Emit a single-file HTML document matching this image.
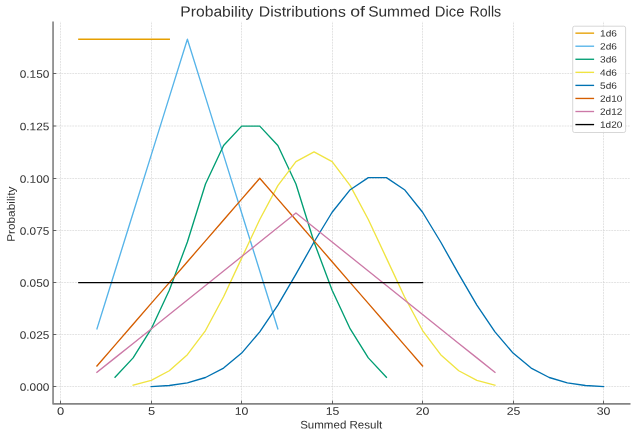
<!DOCTYPE html>
<html><head><meta charset="utf-8"><title>Probability Distributions of Summed Dice Rolls</title>
<style>html,body{margin:0;padding:0;background:#fff;}body{width:636px;height:437px;overflow:hidden;}svg{display:block;will-change:transform;}text{text-rendering:geometricPrecision;font-family:"Liberation Sans",sans-serif;fill:#303030;}</style></head><body>
<svg width="636" height="437" viewBox="0 0 636 437">
<rect x="0" y="0" width="636" height="437" fill="#ffffff"/>
<g stroke="#d0d0d0" stroke-width="0.6" stroke-dasharray="1.9 0.85" fill="none">
<line x1="60.50" y1="403.90" x2="60.50" y2="21.50"/>
<line x1="151.50" y1="403.90" x2="151.50" y2="21.50"/>
<line x1="241.50" y1="403.90" x2="241.50" y2="21.50"/>
<line x1="332.50" y1="403.90" x2="332.50" y2="21.50"/>
<line x1="422.50" y1="403.90" x2="422.50" y2="21.50"/>
<line x1="513.50" y1="403.90" x2="513.50" y2="21.50"/>
<line x1="603.50" y1="403.90" x2="603.50" y2="21.50"/>
<line x1="53.05" y1="386.50" x2="630.50" y2="386.50"/>
<line x1="53.05" y1="334.50" x2="630.50" y2="334.50"/>
<line x1="53.05" y1="282.50" x2="630.50" y2="282.50"/>
<line x1="53.05" y1="230.50" x2="630.50" y2="230.50"/>
<line x1="53.05" y1="178.50" x2="630.50" y2="178.50"/>
<line x1="53.05" y1="126.00" x2="630.50" y2="126.00"/>
<line x1="53.05" y1="73.50" x2="630.50" y2="73.50"/>
</g>
<g fill="none" stroke-width="1.35" stroke-linejoin="round" stroke-linecap="square">
<polyline stroke="#E69F00" points="78.84,39.20 96.93,39.20 115.03,39.20 133.12,39.20 151.21,39.20 169.30,39.20"/>
<polyline stroke="#56B4E9" points="96.93,328.93 115.03,270.98 133.12,213.04 151.21,155.09 169.30,97.15 187.39,39.20 205.49,97.15 223.58,155.09 241.67,213.04 259.76,270.98 277.85,328.93"/>
<polyline stroke="#009E73" points="115.03,377.21 133.12,357.90 151.21,328.93 169.30,290.30 187.39,242.01 205.49,184.06 223.58,145.43 241.67,126.12 259.76,126.12 277.85,145.43 295.95,184.06 314.04,242.01 332.13,290.30 350.22,328.93 368.31,357.90 386.41,377.21"/>
<polyline stroke="#F0E442" points="133.12,385.26 151.21,380.43 169.30,370.77 187.39,354.68 205.49,330.54 223.58,296.73 241.67,258.10 259.76,219.47 277.85,185.67 295.95,161.53 314.04,151.87 332.13,161.53 350.22,185.67 368.31,219.47 386.41,258.10 404.50,296.73 422.59,330.54 440.68,354.68 458.77,370.77 476.87,380.43 494.96,385.26"/>
<polyline stroke="#0072B2" points="151.21,386.60 169.30,385.53 187.39,382.85 205.49,377.48 223.58,368.09 241.67,353.07 259.76,331.88 277.85,305.05 295.95,274.20 314.04,242.01 332.13,212.23 350.22,189.70 368.31,177.63 386.41,177.63 404.50,189.70 422.59,212.23 440.68,242.01 458.77,274.20 476.87,305.05 494.96,331.88 513.05,353.07 531.14,368.09 549.23,377.48 567.33,382.85 585.42,385.53 603.51,386.60"/>
<polyline stroke="#D55E00" points="96.93,366.01 115.03,345.15 133.12,324.29 151.21,303.43 169.30,282.57 187.39,261.71 205.49,240.85 223.58,219.99 241.67,199.13 259.76,178.27 277.85,199.13 295.95,219.99 314.04,240.85 332.13,261.71 350.22,282.57 368.31,303.43 386.41,324.29 404.50,345.15 422.59,366.01"/>
<polyline stroke="#CC79A7" points="96.93,372.38 115.03,357.90 133.12,343.41 151.21,328.93 169.30,314.44 187.39,299.95 205.49,285.47 223.58,270.98 241.67,256.50 259.76,242.01 277.85,227.52 295.95,213.04 314.04,227.52 332.13,242.01 350.22,256.50 368.31,270.98 386.41,285.47 404.50,299.95 422.59,314.44 440.68,328.93 458.77,343.41 476.87,357.90 494.96,372.38"/>
<polyline stroke="#000000" points="78.84,282.57 96.93,282.57 115.03,282.57 133.12,282.57 151.21,282.57 169.30,282.57 187.39,282.57 205.49,282.57 223.58,282.57 241.67,282.57 259.76,282.57 277.85,282.57 295.95,282.57 314.04,282.57 332.13,282.57 350.22,282.57 368.31,282.57 386.41,282.57 404.50,282.57 422.59,282.57"/>
</g>
<path d="M53.05 21.50 V403.90 H630.50" stroke="#848484" stroke-width="1.65" fill="none" stroke-linejoin="round"/>
<g stroke="#4a4a4a" stroke-width="0.85" fill="none">
<line x1="60.50" y1="403.90" x2="60.50" y2="400.70"/>
<line x1="151.50" y1="403.90" x2="151.50" y2="400.70"/>
<line x1="241.50" y1="403.90" x2="241.50" y2="400.70"/>
<line x1="332.50" y1="403.90" x2="332.50" y2="400.70"/>
<line x1="422.50" y1="403.90" x2="422.50" y2="400.70"/>
<line x1="513.50" y1="403.90" x2="513.50" y2="400.70"/>
<line x1="603.50" y1="403.90" x2="603.50" y2="400.70"/>
<line x1="53.05" y1="386.50" x2="56.25" y2="386.50"/>
<line x1="53.05" y1="334.50" x2="56.25" y2="334.50"/>
<line x1="53.05" y1="282.50" x2="56.25" y2="282.50"/>
<line x1="53.05" y1="230.50" x2="56.25" y2="230.50"/>
<line x1="53.05" y1="178.50" x2="56.25" y2="178.50"/>
<line x1="53.05" y1="126.00" x2="56.25" y2="126.00"/>
<line x1="53.05" y1="73.50" x2="56.25" y2="73.50"/>
</g>
<g font-size="10.85">
<text x="60.50" y="414.7" transform="rotate(0.05 60.50 414.7)" text-anchor="middle" textLength="7.2" lengthAdjust="spacingAndGlyphs">0</text>
<text x="151.50" y="414.7" transform="rotate(0.05 151.50 414.7)" text-anchor="middle" textLength="7.2" lengthAdjust="spacingAndGlyphs">5</text>
<text x="241.50" y="414.7" transform="rotate(0.05 241.50 414.7)" text-anchor="middle" textLength="13.7" lengthAdjust="spacingAndGlyphs">10</text>
<text x="332.50" y="414.7" transform="rotate(0.05 332.50 414.7)" text-anchor="middle" textLength="13.7" lengthAdjust="spacingAndGlyphs">15</text>
<text x="422.50" y="414.7" transform="rotate(0.05 422.50 414.7)" text-anchor="middle" textLength="13.7" lengthAdjust="spacingAndGlyphs">20</text>
<text x="513.50" y="414.7" transform="rotate(0.05 513.50 414.7)" text-anchor="middle" textLength="13.7" lengthAdjust="spacingAndGlyphs">25</text>
<text x="603.50" y="414.7" transform="rotate(0.05 603.50 414.7)" text-anchor="middle" textLength="13.7" lengthAdjust="spacingAndGlyphs">30</text>
<text x="49.3" y="390.80" transform="rotate(0.05 49.3 390.80)" text-anchor="end" textLength="29.6" lengthAdjust="spacingAndGlyphs">0.000</text>
<text x="49.3" y="338.80" transform="rotate(0.05 49.3 338.80)" text-anchor="end" textLength="29.6" lengthAdjust="spacingAndGlyphs">0.025</text>
<text x="49.3" y="286.80" transform="rotate(0.05 49.3 286.80)" text-anchor="end" textLength="29.6" lengthAdjust="spacingAndGlyphs">0.050</text>
<text x="49.3" y="234.80" transform="rotate(0.05 49.3 234.80)" text-anchor="end" textLength="29.6" lengthAdjust="spacingAndGlyphs">0.075</text>
<text x="49.3" y="182.80" transform="rotate(0.05 49.3 182.80)" text-anchor="end" textLength="29.6" lengthAdjust="spacingAndGlyphs">0.100</text>
<text x="49.3" y="130.30" transform="rotate(0.05 49.3 130.30)" text-anchor="end" textLength="29.6" lengthAdjust="spacingAndGlyphs">0.125</text>
<text x="49.3" y="77.80" transform="rotate(0.05 49.3 77.80)" text-anchor="end" textLength="29.6" lengthAdjust="spacingAndGlyphs">0.150</text>
</g>
<text x="341.2" y="428.5" transform="rotate(0.05 341.2 428.5)" font-size="11" text-anchor="middle" textLength="82.1" lengthAdjust="spacingAndGlyphs">Summed Result</text>
<text transform="translate(14.75,214.25) rotate(-89.95)" font-size="10.9" text-anchor="middle" textLength="55.2" lengthAdjust="spacingAndGlyphs">Probability</text>
<g font-size="14.7">
<text x="180.36" y="16.6" transform="rotate(0.05 180.36 16.6)" textLength="73.01" lengthAdjust="spacingAndGlyphs">Probability</text>
<text x="258.88" y="16.6" transform="rotate(0.05 258.88 16.6)" textLength="86.92" lengthAdjust="spacingAndGlyphs">Distributions</text>
<text x="350.28" y="16.6" transform="rotate(0.05 350.28 16.6)" textLength="14.78" lengthAdjust="spacingAndGlyphs">of</text>
<text x="368.15" y="16.6" transform="rotate(0.05 368.15 16.6)" textLength="62.03" lengthAdjust="spacingAndGlyphs">Summed</text>
<text x="434.87" y="16.6" transform="rotate(0.05 434.87 16.6)" textLength="29.54" lengthAdjust="spacingAndGlyphs">Dice</text>
<text x="469.59" y="16.6" transform="rotate(0.05 469.59 16.6)" textLength="31.60" lengthAdjust="spacingAndGlyphs">Rolls</text>
</g>
<rect x="572.7" y="26.2" width="52.90" height="106.30" rx="1.8" ry="1.8" fill="#ffffff" fill-opacity="0.8" stroke="#d0d0d0" stroke-width="0.85"/>
<line x1="575.4" y1="33.15" x2="594.1" y2="33.15" stroke="#E69F00" stroke-width="1.35"/>
<text x="600.0" y="36.45" transform="rotate(0.05 600 36.45)" font-size="9.1" textLength="16.9" lengthAdjust="spacingAndGlyphs">1d6</text>
<line x1="575.4" y1="46.21" x2="594.1" y2="46.21" stroke="#56B4E9" stroke-width="1.35"/>
<text x="600.0" y="49.51" transform="rotate(0.05 600 49.51)" font-size="9.1" textLength="16.9" lengthAdjust="spacingAndGlyphs">2d6</text>
<line x1="575.4" y1="59.27" x2="594.1" y2="59.27" stroke="#009E73" stroke-width="1.35"/>
<text x="600.0" y="62.57" transform="rotate(0.05 600 62.57)" font-size="9.1" textLength="16.9" lengthAdjust="spacingAndGlyphs">3d6</text>
<line x1="575.4" y1="72.33" x2="594.1" y2="72.33" stroke="#F0E442" stroke-width="1.35"/>
<text x="600.0" y="75.63" transform="rotate(0.05 600 75.63)" font-size="9.1" textLength="16.9" lengthAdjust="spacingAndGlyphs">4d6</text>
<line x1="575.4" y1="85.39" x2="594.1" y2="85.39" stroke="#0072B2" stroke-width="1.35"/>
<text x="600.0" y="88.69" transform="rotate(0.05 600 88.69)" font-size="9.1" textLength="16.9" lengthAdjust="spacingAndGlyphs">5d6</text>
<line x1="575.4" y1="98.45" x2="594.1" y2="98.45" stroke="#D55E00" stroke-width="1.35"/>
<text x="600.0" y="101.75" transform="rotate(0.05 600 101.75)" font-size="9.1" textLength="22.3" lengthAdjust="spacingAndGlyphs">2d10</text>
<line x1="575.4" y1="111.51" x2="594.1" y2="111.51" stroke="#CC79A7" stroke-width="1.35"/>
<text x="600.0" y="114.81" transform="rotate(0.05 600 114.81)" font-size="9.1" textLength="22.3" lengthAdjust="spacingAndGlyphs">2d12</text>
<line x1="575.4" y1="124.57" x2="594.1" y2="124.57" stroke="#000000" stroke-width="1.35"/>
<text x="600.0" y="127.87" transform="rotate(0.05 600 127.87)" font-size="9.1" textLength="22.3" lengthAdjust="spacingAndGlyphs">1d20</text>
</svg></body></html>
